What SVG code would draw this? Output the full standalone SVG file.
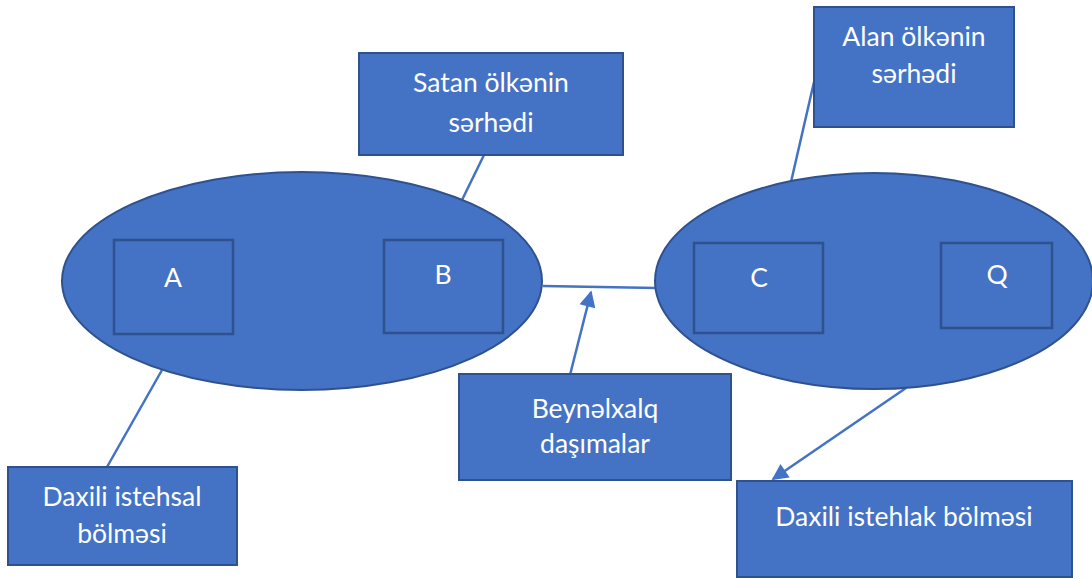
<svg xmlns="http://www.w3.org/2000/svg" width="1092" height="579" viewBox="0 0 1092 579">
<defs>
<style>
.sh{fill:#4472C4;stroke:#2F528F;stroke-width:2}
.in{fill:#4472C4;stroke:#2F528F;stroke-width:2.5}
.ln{stroke:#4472C4;stroke-width:2.5;fill:none}
text{font-family:"Lato","Open Sans","Liberation Sans",sans-serif;font-size:26.5px;fill:#FFFFFF;text-anchor:middle}
</style>
<marker id="ah" viewBox="0 0 10 10" refX="9" refY="5" markerWidth="7" markerHeight="6.5" orient="auto" markerUnits="strokeWidth">
<path d="M0,0 L10,5 L0,10 Z" fill="#4472C4"/>
</marker>
</defs>
<rect width="1092" height="579" fill="#FFFFFF"/>
<g id="connectors">
<line class="ln" x1="484" y1="155" x2="462" y2="200"/>
<line class="ln" x1="791" y1="182" x2="814" y2="82"/>
<line class="ln" x1="162" y1="370" x2="107" y2="467"/>
<line class="ln" x1="543" y1="286" x2="657" y2="288"/>
<line class="ln" x1="570" y1="375" x2="591" y2="292" marker-end="url(#ah)"/>
<line class="ln" x1="906" y1="388" x2="773" y2="479" marker-end="url(#ah)"/>
</g>
<g id="seller">
<ellipse class="sh" cx="302" cy="281" rx="240" ry="109"/>
</g>
<g id="buyer">
<ellipse class="sh" cx="874" cy="281" rx="219" ry="108"/>
</g>
<g id="nodeA"><rect class="in" x="114" y="240" width="119" height="94"/><text x="173" y="287">A</text></g>
<g id="nodeB"><rect class="in" x="384" y="240" width="119" height="93"/><text x="443" y="284">B</text></g>
<g id="nodeC"><rect class="in" x="694" y="243" width="129" height="90"/><text x="759" y="287">C</text></g>
<g id="nodeQ"><rect class="in" x="941" y="243" width="111" height="85"/><text x="997" y="284">Q</text></g>
<g id="satan"><rect class="sh" x="359" y="53" width="264" height="102"/><text x="491" y="92">Satan ölkənin</text><text x="491" y="132">sərhədi</text></g>
<g id="alan"><rect class="sh" x="814" y="7" width="200" height="120"/><text x="914" y="46">Alan ölkənin</text><text x="914" y="83">sərhədi</text></g>
<g id="beynelxalq"><rect class="sh" x="459" y="374" width="272" height="106"/><text x="595" y="418">Beynəlxalq</text><text x="595" y="453">daşımalar</text></g>
<g id="istehsal"><rect class="sh" x="8" y="467" width="229" height="98"/><text x="122" y="506">Daxili istehsal</text><text x="122" y="543">bölməsi</text></g>
<g id="istehlak"><rect class="sh" x="737" y="481" width="335" height="96"/><text x="904" y="526">Daxili istehlak bölməsi</text></g>
</svg>
